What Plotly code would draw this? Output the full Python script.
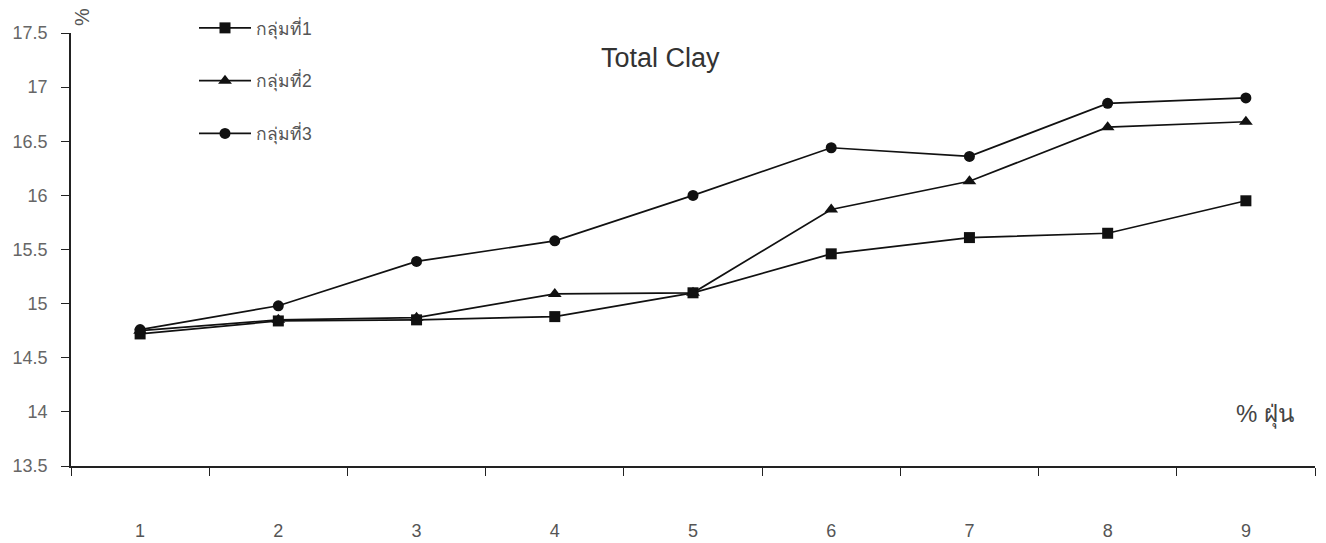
import plotly.graph_objects as go

# Dust content levels (category axis) and clay percentages for each group
dust_levels = ["1", "2", "3", "4", "5", "6", "7", "8", "9"]
group1 = [14.72, 14.84, 14.85, 14.88, 15.10, 15.46, 15.61, 15.65, 15.95]
group2 = [14.75, 14.85, 14.87, 15.09, 15.10, 15.87, 16.13, 16.63, 16.68]
group3 = [14.76, 14.98, 15.39, 15.58, 16.00, 16.44, 16.36, 16.85, 16.90]

series_names = ["กลุ่มที่1", "กลุ่มที่2", "กลุ่มที่3"]
series_values = [group1, group2, group3]
symbols = ["square", "triangle-up", "circle"]

fig = go.Figure()
for i, (name, vals, sym) in enumerate(zip(series_names, series_values, symbols)):
    fig.add_trace(go.Scatter(
        x=dust_levels, y=vals, name=name, mode="lines+markers",
        legendgroup=f"g{i}",
        line=dict(color="#111111", width=1.7),
        marker=dict(symbol=sym, size=11 if sym != "triangle-up" else 12, color="#111111"),
    ))

font_family = "Liberation Sans, Arial, Noto Sans, sans-serif"

# plot area spans x 71..1315 and y 33..466 px
L, R, T, B = 71, 11, 33, 77
W, H = 1326 - L - R, 543 - T - B


def px_x(x):
    return (x - L) / W


def px_y(y):
    return 1 - (y - T) / H


fig.update_layout(
    width=1326, height=543,
    margin=dict(l=L, r=R, t=T, b=B, autoexpand=False),
    paper_bgcolor="white", plot_bgcolor="white",
    font=dict(family=font_family, color="#555555", size=18),
    showlegend=True,
    legend=dict(
        x=px_x(194), y=px_y(10), xanchor="left", yanchor="top",
        bgcolor="rgba(0,0,0,0)", tracegroupgap=27,
        font=dict(size=17.5, color="#555555"),
        itemwidth=52,
    ),
    xaxis=dict(
        type="category", range=[-0.5, 8.5],
        tickson="boundaries", ticks="outside", ticklen=8, tickwidth=1.3,
        tickcolor="#222222",
        showline=True, linecolor="#222222", linewidth=1.5,
        showgrid=False, zeroline=False,
        ticklabelstandoff=48,
        tickfont=dict(size=18, color="#555555"),
    ),
    yaxis=dict(
        range=[13.5, 17.5], dtick=0.5, tick0=13.5,
        ticks="outside", ticklen=8, tickwidth=1.3, tickcolor="#222222",
        showline=True, linecolor="#222222", linewidth=1.5,
        showgrid=False, zeroline=False,
        ticklabelstandoff=10,
        tickfont=dict(size=18, color="#666666"),
    ),
    annotations=[
        dict(text="Total Clay", xref="paper", yref="paper",
             x=px_x(660), y=px_y(58), xanchor="center", yanchor="middle",
             showarrow=False, font=dict(size=27, color="#333333")),
        dict(text="%", xref="paper", yref="paper",
             x=px_x(82), y=px_y(17), xanchor="center", yanchor="middle",
             showarrow=False, textangle=-90, font=dict(size=20, color="#555555")),
        dict(text="% ฝุ่น", xref="paper", yref="paper",
             x=px_x(1265), y=px_y(414), xanchor="center", yanchor="middle",
             showarrow=False, font=dict(size=24, color="#444444")),
    ],
)

fig.write_html("out.html")
